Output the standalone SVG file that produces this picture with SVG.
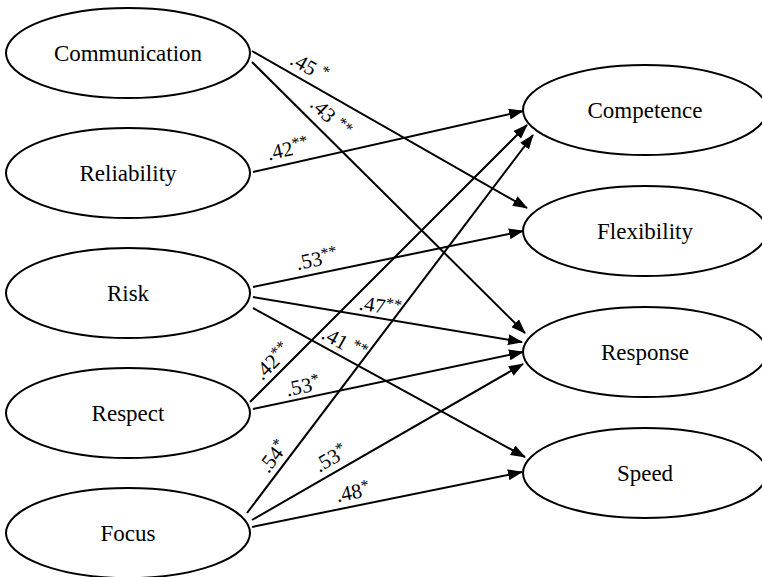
<svg xmlns="http://www.w3.org/2000/svg" width="762" height="577" viewBox="0 0 762 577">
<defs>
<marker id="arr" markerUnits="userSpaceOnUse" markerWidth="15" markerHeight="11" refX="14" refY="5.5" orient="auto">
<path d="M0,0 L15,5.5 L0,11 z" fill="#000"/>
</marker>
<style>
.node ellipse{fill:#fff;stroke:#000;stroke-width:2}
.node text{font-family:"Liberation Serif","Times New Roman",serif;font-size:23px;text-anchor:middle;fill:#000}
.edges line{stroke:#000;stroke-width:2;marker-end:url(#arr)}
.lbl{font-family:"Liberation Serif","Times New Roman",serif;font-size:21px;text-anchor:middle;fill:#000}
.st{font-size:16px}
</style>
</defs>
<rect width="762" height="577" fill="#fff"/>
<g class="edges" id="connectors">
<line x1="252" y1="51" x2="527" y2="208"/>
<line x1="252" y1="62" x2="525" y2="333"/>
<line x1="253" y1="172" x2="523" y2="111"/>
<line x1="253" y1="287" x2="523" y2="231"/>
<line x1="253" y1="297" x2="522" y2="342"/>
<line x1="253" y1="308" x2="525" y2="457"/>
<line x1="250" y1="402" x2="527" y2="125"/>
<line x1="253" y1="409" x2="523" y2="352"/>
<line x1="247" y1="513" x2="533" y2="135"/>
<line x1="252" y1="520" x2="523" y2="364"/>
<line x1="252" y1="527" x2="522" y2="472"/>
</g>
<g id="labels">
<text class="lbl" transform="translate(309,68) rotate(29.6)" y="6">.45 <tspan class="st" dy="-6">*</tspan></text>
<text class="lbl" transform="translate(330,118) rotate(44.8)" y="6">.43 <tspan class="st" dy="-6">**</tspan></text>
<text class="lbl" transform="translate(288,150) rotate(-12.7)" y="6">.42<tspan class="st" dy="-6">**</tspan></text>
<text class="lbl" transform="translate(317,260) rotate(-11.7)" y="6">.53<tspan class="st" dy="-6">**</tspan></text>
<text class="lbl" transform="translate(380,307) rotate(9.5)" y="6">.47<tspan class="st" dy="-6">**</tspan></text>
<text class="lbl" transform="translate(344,344) rotate(28.7)" y="6">.41 <tspan class="st" dy="-6">**</tspan></text>
<text class="lbl" transform="translate(273,362) rotate(-45)" y="6">.42<tspan class="st" dy="-6">**</tspan></text>
<text class="lbl" transform="translate(303,387) rotate(-11.9)" y="6">.53<tspan class="st" dy="-6">*</tspan></text>
<text class="lbl" transform="translate(274,457) rotate(-52.9)" y="6">.54<tspan class="st" dy="-6">*</tspan></text>
<text class="lbl" transform="translate(331,459) rotate(-29.9)" y="6">.53<tspan class="st" dy="-6">*</tspan></text>
<text class="lbl" transform="translate(353,493) rotate(-11.5)" y="6">.48<tspan class="st" dy="-6">*</tspan></text>
</g>
<g id="n-communication" class="node"><ellipse cx="128" cy="53" rx="122" ry="45"/><text x="128" y="61">Communication</text></g>
<g id="n-reliability" class="node"><ellipse cx="128" cy="173" rx="122" ry="45"/><text x="128" y="181">Reliability</text></g>
<g id="n-risk" class="node"><ellipse cx="128" cy="293" rx="122" ry="45"/><text x="128" y="301">Risk</text></g>
<g id="n-respect" class="node"><ellipse cx="128" cy="413" rx="122" ry="45"/><text x="128" y="421">Respect</text></g>
<g id="n-focus" class="node"><ellipse cx="128" cy="533" rx="122" ry="45"/><text x="128" y="541">Focus</text></g>
<g id="n-competence" class="node"><ellipse cx="645" cy="110" rx="122" ry="45"/><text x="645" y="118">Competence</text></g>
<g id="n-flexibility" class="node"><ellipse cx="645" cy="231" rx="122" ry="45"/><text x="645" y="239">Flexibility</text></g>
<g id="n-response" class="node"><ellipse cx="645" cy="352" rx="122" ry="45"/><text x="645" y="360">Response</text></g>
<g id="n-speed" class="node"><ellipse cx="645" cy="473" rx="122" ry="45"/><text x="645" y="481">Speed</text></g>
</svg>
